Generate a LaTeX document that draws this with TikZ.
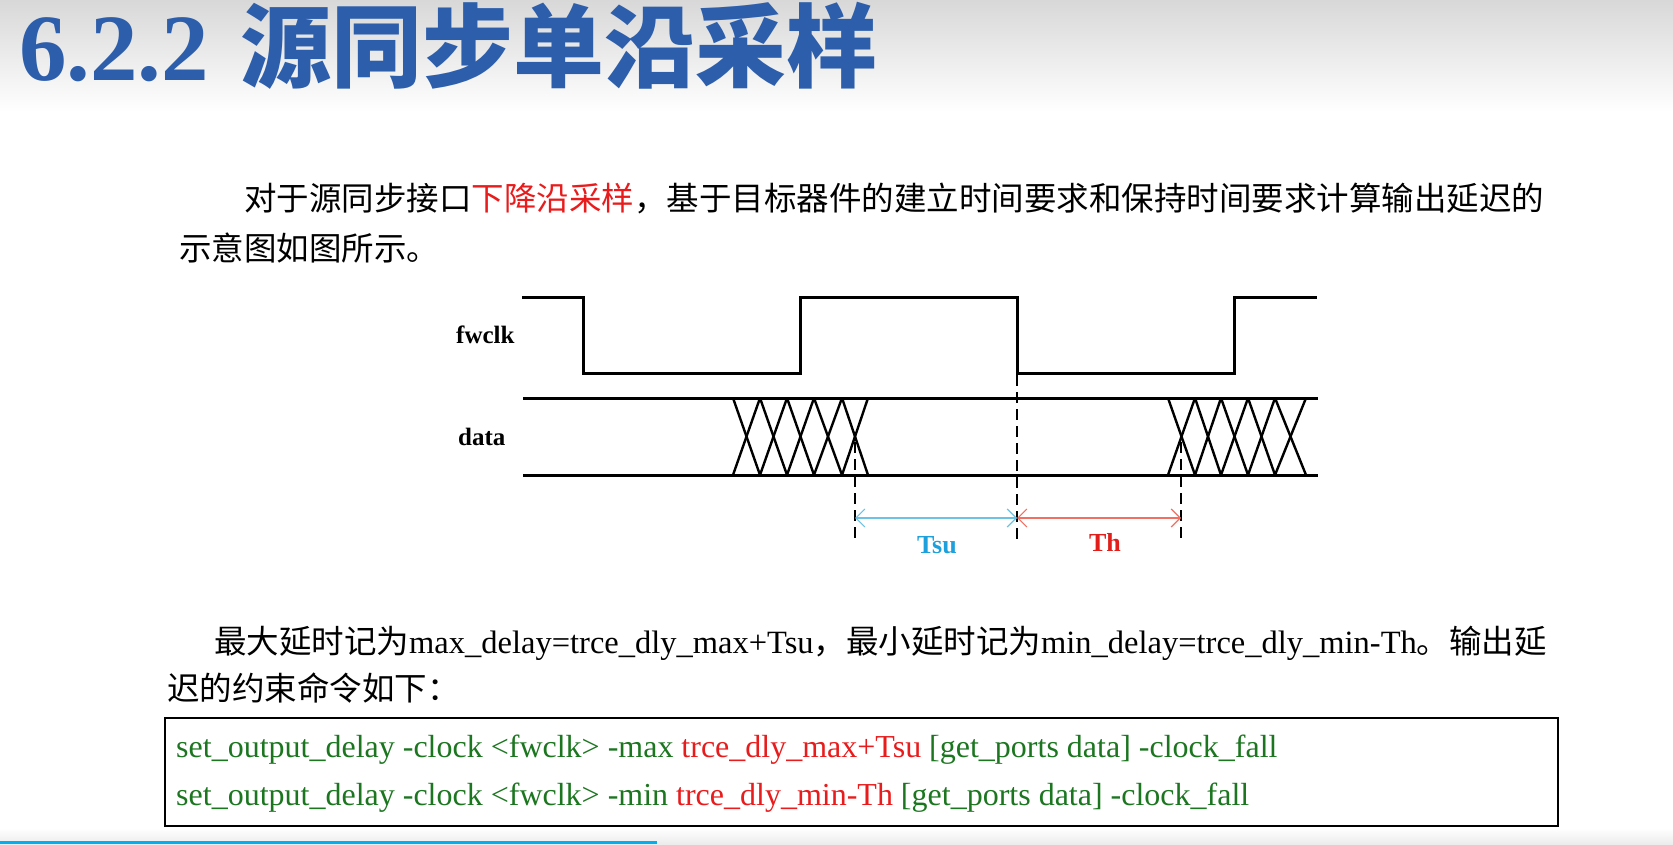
\documentclass[tikz,border=0pt]{standalone}
\usepackage{fontspec}
\setmainfont{Liberation Serif}
\newfontfamily\cjk{Noto Sans CJK SC}
\usetikzlibrary{arrows.meta}
\definecolor{titleblue}{RGB}{44,94,172}
\definecolor{codegreen}{RGB}{28,118,32}
\definecolor{codered}{RGB}{232,28,28}
\definecolor{tsucol}{RGB}{110,195,228}
\definecolor{thcol}{RGB}{240,112,100}
\definecolor{tsutext}{RGB}{30,160,220}
\definecolor{thtext}{RGB}{225,30,25}
\definecolor{barblue}{RGB}{0,175,240}
\definecolor{topgray}{RGB}{216,216,216}
\definecolor{botgray}{RGB}{236,236,236}
\begin{document}
\begin{tikzpicture}[x=1pt,y=-1pt,
 wave/.style={line width=3pt, line join=miter},
 cross/.style={line width=2.4pt},
 guide/.style={line width=1.6pt, dash pattern=on 11pt off 6pt},
 lbl/.style={font=\bfseries\fontsize{25}{25}\selectfont, inner sep=0, anchor=base west},
 para/.style={font=\fontsize{32.5}{32.5}\selectfont, inner sep=0, anchor=base west},
 code/.style={font=\fontsize{32}{32}\selectfont, inner sep=0, anchor=base west, text=codegreen},
 dim/.style={line width=2pt, {Straight Barb[length=9pt,width=18pt,line width=1.2pt]}-{Straight Barb[length=9pt,width=18pt,line width=1.2pt]}}
]
\useasboundingbox (0,0) rectangle (1673,844);
\shade[top color=topgray, bottom color=white] (0,0) rectangle (1673,112);
\shade[top color=white, bottom color=botgray] (0,828) rectangle (1673,844);
\fill[barblue] (0,840.5) rectangle (657,844);

% title
\node[inner sep=0, anchor=base west, text=titleblue, font=\bfseries\fontsize{95}{95}\selectfont] (num) at (19,80) {6.2.2};
\node[inner sep=0, anchor=base west, text=titleblue, font=\cjk\bfseries\fontsize{91}{91}\selectfont] (ttl) at (240,80) {源同步单沿采样};

% paragraph 1
\node[para, font=\cjk\fontsize{32.5}{32.5}\selectfont] (p1) at (244,210) {对于源同步接口\textcolor{codered}{下降沿采样}，基于目标器件的建立时间要求和保持时间要求计算输出延迟的};
\node[para, font=\cjk\fontsize{32.5}{32.5}\selectfont] (p2) at (179,260) {示意图如图所示。};

% waveforms
\node[lbl] (fw) at (456,343) {fwclk};
\node[lbl] (dt) at (458,445) {data};
\draw[wave] (522,297) -| (583,373) -| (800,297) -| (1017,373) -| (1234,297) -- (1317,297);
\draw[wave] (523,398) -- (1318,398);
\draw[wave] (523,475) -- (1318,475);
\foreach \a/\b in {733/760,760/787,787/814,814/842,842/868,1168/1195,1195/1221,1221/1248,1248/1275,1275/1306} {
  \draw[cross] (\a,398) -- (\b,475);
  \draw[cross] (\a,475) -- (\b,398);
}
\coordinate (g1t) at (855,442);  \coordinate (g1b) at (855,540);
\coordinate (g2t) at (1017,375); \coordinate (g2b) at (1017,540);
\coordinate (g3t) at (1181,442); \coordinate (g3b) at (1181,540);
\draw[guide] (g1t) -- (g1b);
\draw[guide] (g2t) -- (g2b);
\draw[guide] (g3t) -- (g3b);
\coordinate (a1) at (855,518);
\coordinate (a2) at (1017,518);
\coordinate (a3) at (1181,518);
\draw[dim, tsucol] (a1) -- (a2);
\draw[dim, thcol] (a2) -- (a3);
\node[lbl, anchor=base, text=tsutext, font=\bfseries\fontsize{26}{26}\selectfont] (tsu) at (937,553) {Tsu};
\node[lbl, anchor=base, text=thtext, font=\bfseries\fontsize{26}{26}\selectfont] (th) at (1105,551) {Th};

% paragraph 2
\node[para] (q1) at (214,653) {{\cjk 最大延时记为}max\_delay=trce\_dly\_max+Tsu{\cjk ，最小延时记为}min\_delay=trce\_dly\_min-Th{\cjk 。输出延}};
\node[para, font=\cjk\fontsize{32.5}{32.5}\selectfont] (q2) at (167,700) {迟的约束命令如下：};

% code box
\draw[line width=1.5pt] (165,718) rectangle (1558,826);
\node[code] (c1) at (176,757) {set\_output\_delay -clock \textless fwclk\textgreater{} -max \textcolor{codered}{trce\_dly\_max+Tsu} [get\_ports data] -clock\_fall};
\node[code] (c2) at (176,805) {set\_output\_delay -clock \textless fwclk\textgreater{} -min \textcolor{codered}{trce\_dly\_min-Th} [get\_ports data] -clock\_fall};
\end{tikzpicture}
\end{document}
